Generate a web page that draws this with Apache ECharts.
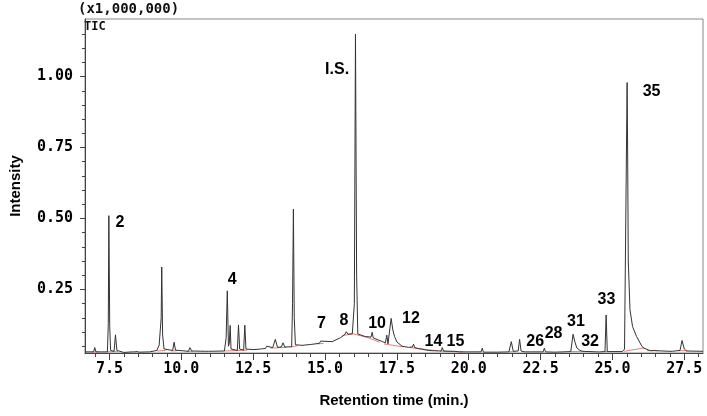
<!DOCTYPE html>
<html>
<head>
<meta charset="utf-8">
<script src="https://cdn.jsdelivr.net/npm/echarts@6/dist/echarts.min.js"></script>
<style>
    html, body { margin: 0; padding: 0; background: #fff; }
    #chart { width: 707px; height: 416px; }
</style>
</head>
<body>
<div id="chart"></div>
<script>
// TIC chromatogram, retention time (min.) vs intensity (x1,000,000)

// trace points, split by time range
var traceA = [
    [6.65, 0.03], [6.95, 0.03], [6.99, 0.045], [7.03, 0.03], [7.22, 0.03], [7.25, 0.037], [7.28, 0.029],
    [7.43, 0.03], [7.46, 0.13], [7.48, 0.51], [7.51, 0.12], [7.54, 0.035], [7.66, 0.032], [7.71, 0.09],
    [7.76, 0.035], [8.0, 0.028], [8.3, 0.03], [8.34, 0.037], [8.38, 0.03], [8.46, 0.031], [8.49, 0.036],
    [8.53, 0.029], [8.9, 0.03], [9.15, 0.035], [9.23, 0.054], [9.27, 0.06], [9.30, 0.15], [9.32, 0.329],
    [9.35, 0.09], [9.4, 0.04], [9.7, 0.035], [9.75, 0.064], [9.8, 0.036], [10.25, 0.032], [10.3, 0.045],
    [10.36, 0.033], [10.85, 0.032], [10.9, 0.036], [10.95, 0.032], [11.5, 0.033], [11.56, 0.08],
    [11.60, 0.245], [11.64, 0.05], [11.67, 0.06], [11.70, 0.123], [11.73, 0.04], [11.95, 0.035],
    [11.99, 0.125], [12.03, 0.04], [12.17, 0.036], [12.21, 0.124], [12.25, 0.04], [12.5, 0.038]
];
var traceB = [
    [12.5, 0.038], [12.75, 0.04], [12.79, 0.047], [12.83, 0.041], [12.93, 0.042], [12.97, 0.05],
    [13.01, 0.043], [13.18, 0.045], [13.27, 0.074], [13.35, 0.046], [13.48, 0.047], [13.54, 0.062],
    [13.60, 0.047], [13.84, 0.048], [13.87, 0.2], [13.90, 0.533], [13.93, 0.15], [13.97, 0.055],
    [14.2, 0.053], [14.5, 0.056], [14.8, 0.06], [14.85, 0.068], [14.9, 0.061], [15.25, 0.066],
    [15.54, 0.08], [15.68, 0.09], [15.74, 0.101], [15.8, 0.092], [15.95, 0.094], [16.02, 0.2],
    [16.06, 1.15], [16.1, 0.3], [16.14, 0.093], [16.4, 0.084], [16.6, 0.082], [16.64, 0.099],
    [16.68, 0.079], [17.0, 0.066], [17.1, 0.062], [17.15, 0.089], [17.19, 0.058], [17.24, 0.06],
    [17.30, 0.148], [17.36, 0.107], [17.42, 0.084], [17.5, 0.065]
];
var traceC = [
    [17.5, 0.065], [17.68, 0.05], [17.9, 0.046], [18.04, 0.047], [18.08, 0.057], [18.12, 0.045],
    [18.27, 0.041], [18.31, 0.048], [18.35, 0.04], [18.53, 0.036], [18.57, 0.039], [18.61, 0.035],
    [18.73, 0.034], [18.77, 0.041], [18.81, 0.034], [19.04, 0.033], [19.08, 0.045], [19.12, 0.033],
    [19.42, 0.032], [19.46, 0.036], [19.5, 0.032], [19.6, 0.031], [19.63, 0.034], [19.67, 0.03],
    [20.0, 0.03], [20.43, 0.03], [20.47, 0.043], [20.51, 0.029], [21.0, 0.029], [21.4, 0.03],
    [21.48, 0.066], [21.55, 0.032], [21.72, 0.033], [21.77, 0.074], [21.82, 0.033], [21.89, 0.031],
    [21.92, 0.036], [21.96, 0.03], [22.59, 0.03], [22.63, 0.043], [22.67, 0.03], [23.0, 0.029]
];
var traceD = [
    [23.0, 0.029], [23.55, 0.031], [23.63, 0.092], [23.7, 0.063], [23.76, 0.044], [23.86, 0.036],
    [23.9, 0.041], [23.95, 0.032], [24.47, 0.03], [24.51, 0.033], [24.55, 0.03], [24.74, 0.031],
    [24.78, 0.16], [24.82, 0.031], [25.35, 0.031], [25.42, 0.04], [25.46, 0.035], [25.51, 0.979],
    [25.53, 0.706], [25.55, 0.354], [25.61, 0.178], [25.70, 0.119], [25.84, 0.084], [26.0, 0.054],
    [26.03, 0.058], [26.06, 0.045], [26.24, 0.037], [26.29, 0.04], [26.33, 0.034], [26.46, 0.035],
    [26.5, 0.041], [26.54, 0.034], [27.0, 0.032], [27.04, 0.034], [27.08, 0.032], [27.35, 0.035],
    [27.42, 0.07], [27.5, 0.04], [27.58, 0.033], [28.15, 0.032]
];

// red integration baselines under peaks
var redSegments = [
    [[6.9, 0.029], [7.1, 0.03]],
    [[7.4, 0.03], [7.8, 0.032]],
    [[9.15, 0.033], [9.45, 0.035]],
    [[9.65, 0.033], [9.85, 0.034]],
    [[10.2, 0.031], [10.4, 0.032]],
    [[11.5, 0.033], [12.3, 0.036]],
    [[13.1, 0.043], [13.65, 0.046]],
    [[13.8, 0.047], [14.05, 0.052]],
    [[14.75, 0.058], [14.95, 0.06]],
    [[15.6, 0.088], [16.0, 0.093], [16.5, 0.08], [16.9, 0.064]],
    [[17.05, 0.058], [17.7, 0.048]],
    [[17.95, 0.045], [18.9, 0.034]],
    [[19.0, 0.032], [19.8, 0.03]],
    [[21.4, 0.03], [21.6, 0.031]],
    [[23.55, 0.031], [24.0, 0.032]],
    [[24.7, 0.031], [24.9, 0.031]],
    [[25.4, 0.032], [26.1, 0.044]],
    [[26.2, 0.034], [26.6, 0.034]],
    [[27.3, 0.034], [27.6, 0.034]]
];

// peak annotations: text and anchor [time, intensity]
var peakNames = ['2', '4', '7', '8', 'I.S.', '10', '12', '14', '15', '26', '28', '31', '32', '33', '35'];
var peakAnchors = [
    [7.87, 0.485], [11.77, 0.286], [14.88, 0.128], [15.66, 0.14], [15.42, 1.024], [16.81, 0.128],
    [17.99, 0.146], [18.77, 0.066], [19.54, 0.066], [22.31, 0.066], [22.95, 0.095], [23.73, 0.136],
    [24.22, 0.066], [24.79, 0.213], [26.36, 0.947]
];

// axis ticks
var xMajor = [7.5, 10.0, 12.5, 15.0, 17.5, 20.0, 22.5, 25.0, 27.5];
var xMinor = [7.0, 8.0, 8.5, 9.0, 9.5, 10.5, 11.0, 11.5, 12.0, 13.0, 13.5, 14.0, 14.5, 15.5, 16.0, 16.5,
    17.0, 18.0, 18.5, 19.0, 19.5, 20.5, 21.0, 21.5, 22.0, 23.0, 23.5, 24.0, 24.5, 25.5, 26.0, 26.5, 27.0, 28.0];
var yMajor = [0.25, 0.50, 0.75, 1.00];
var yMinor = [0.05, 0.10, 0.15, 0.20, 0.30, 0.35, 0.40, 0.45, 0.55, 0.60, 0.65, 0.70, 0.80, 0.85, 0.90,
    0.95, 1.05, 1.10, 1.15];

var X_MIN = 6.65;
var X_MAX = 28.15;
var Y_MIN = 0.026;
var Y_MAX = 1.203;

var chart = echarts.init(document.getElementById('chart'));

var tickFont = {
    fontFamily: 'DejaVu Sans Mono',
    fontWeight: 'bold',
    fontSize: 15,
    color: '#000'
};

var series = [];

[traceA, traceB, traceC, traceD].forEach(function (trace) {
    series.push({
        type: 'line',
        data: trace,
        xAxisIndex: 0,
        yAxisIndex: 0,
        showSymbol: false,
        symbol: 'none',
        lineStyle: {color: '#333', width: 1},
        z: 3
    });
});

redSegments.forEach(function (seg) {
    series.push({
        type: 'line',
        data: seg,
        xAxisIndex: 0,
        yAxisIndex: 0,
        symbol: 'none',
        lineStyle: {color: '#e8807a', width: 1},
        z: 2
    });
});

series.push({
    type: 'scatter',
    xAxisIndex: 0,
    yAxisIndex: 0,
    symbolSize: 0,
    silent: true,
    itemStyle: {opacity: 1},
    data: peakNames.map(function (name, i) {
        return {name: name, value: peakAnchors[i]};
    }),
    label: {
        show: true,
        position: [0, 0],
        align: 'center',
        verticalAlign: 'middle',
        formatter: '{b}',
        fontFamily: 'Liberation Sans',
        fontWeight: 'bold',
        fontSize: 16,
        color: '#000',
        opacity: 1
    },
    z: 5
});

var option = {
    animation: false,
    backgroundColor: '#fff',
    grid: {
        left: 82,
        right: 4,
        top: 19,
        bottom: 63,
        show: true,
        borderColor: '#888',
        borderWidth: 1
    },
    graphic: [
        {
            type: 'text',
            left: 78,
            top: 2,
            style: {
                text: '(x1,000,000)',
                font: 'bold 14px "DejaVu Sans Mono"',
                fill: '#111'
            }
        },
        {
            type: 'text',
            left: 84,
            top: 21,
            style: {
                text: 'TIC',
                font: 'bold 12px "DejaVu Sans Mono"',
                fill: '#111'
            }
        }
    ],
    xAxis: [
        {
            type: 'value',
            min: X_MIN,
            max: X_MAX,
            position: 'bottom',
            name: 'Retention time (min.)',
            nameLocation: 'middle',
            nameGap: 40,
            nameTextStyle: {
                fontFamily: 'Liberation Sans',
                fontWeight: 'bold',
                fontSize: 15,
                color: '#000'
            },
            axisLine: {lineStyle: {color: '#444'}},
            axisTick: {customValues: xMajor, length: 7, lineStyle: {color: '#444'}},
            axisLabel: Object.assign({
                customValues: xMajor,
                margin: 9,
                formatter: function (v) {
                    return v.toFixed(1);
                }
            }, tickFont),
            splitLine: {show: false}
        },
        {
            type: 'value',
            min: X_MIN,
            max: X_MAX,
            position: 'bottom',
            axisLine: {show: false},
            axisTick: {customValues: xMinor, length: 4, lineStyle: {color: '#444'}},
            axisLabel: {show: false},
            splitLine: {show: false}
        }
    ],
    yAxis: [
        {
            type: 'value',
            min: Y_MIN,
            max: Y_MAX,
            position: 'left',
            name: 'Intensity',
            nameLocation: 'middle',
            nameRotate: 90,
            nameGap: 62,
            nameTextStyle: {
                fontFamily: 'Liberation Sans',
                fontWeight: 'bold',
                fontSize: 15,
                color: '#000'
            },
            axisLine: {show: true, lineStyle: {color: '#444'}},
            axisTick: {show: true, customValues: yMajor, length: 5, lineStyle: {color: '#444'}},
            axisLabel: Object.assign({
                customValues: yMajor,
                margin: 12,
                formatter: function (v) {
                    return v.toFixed(2);
                }
            }, tickFont),
            splitLine: {show: false}
        },
        {
            type: 'value',
            min: Y_MIN,
            max: Y_MAX,
            position: 'left',
            axisLine: {show: false},
            axisTick: {show: true, customValues: yMinor, length: 3, lineStyle: {color: '#444'}},
            axisLabel: {show: false},
            splitLine: {show: false}
        }
    ],
    series: series
};

chart.setOption(option);
</script>
</body>
</html>
